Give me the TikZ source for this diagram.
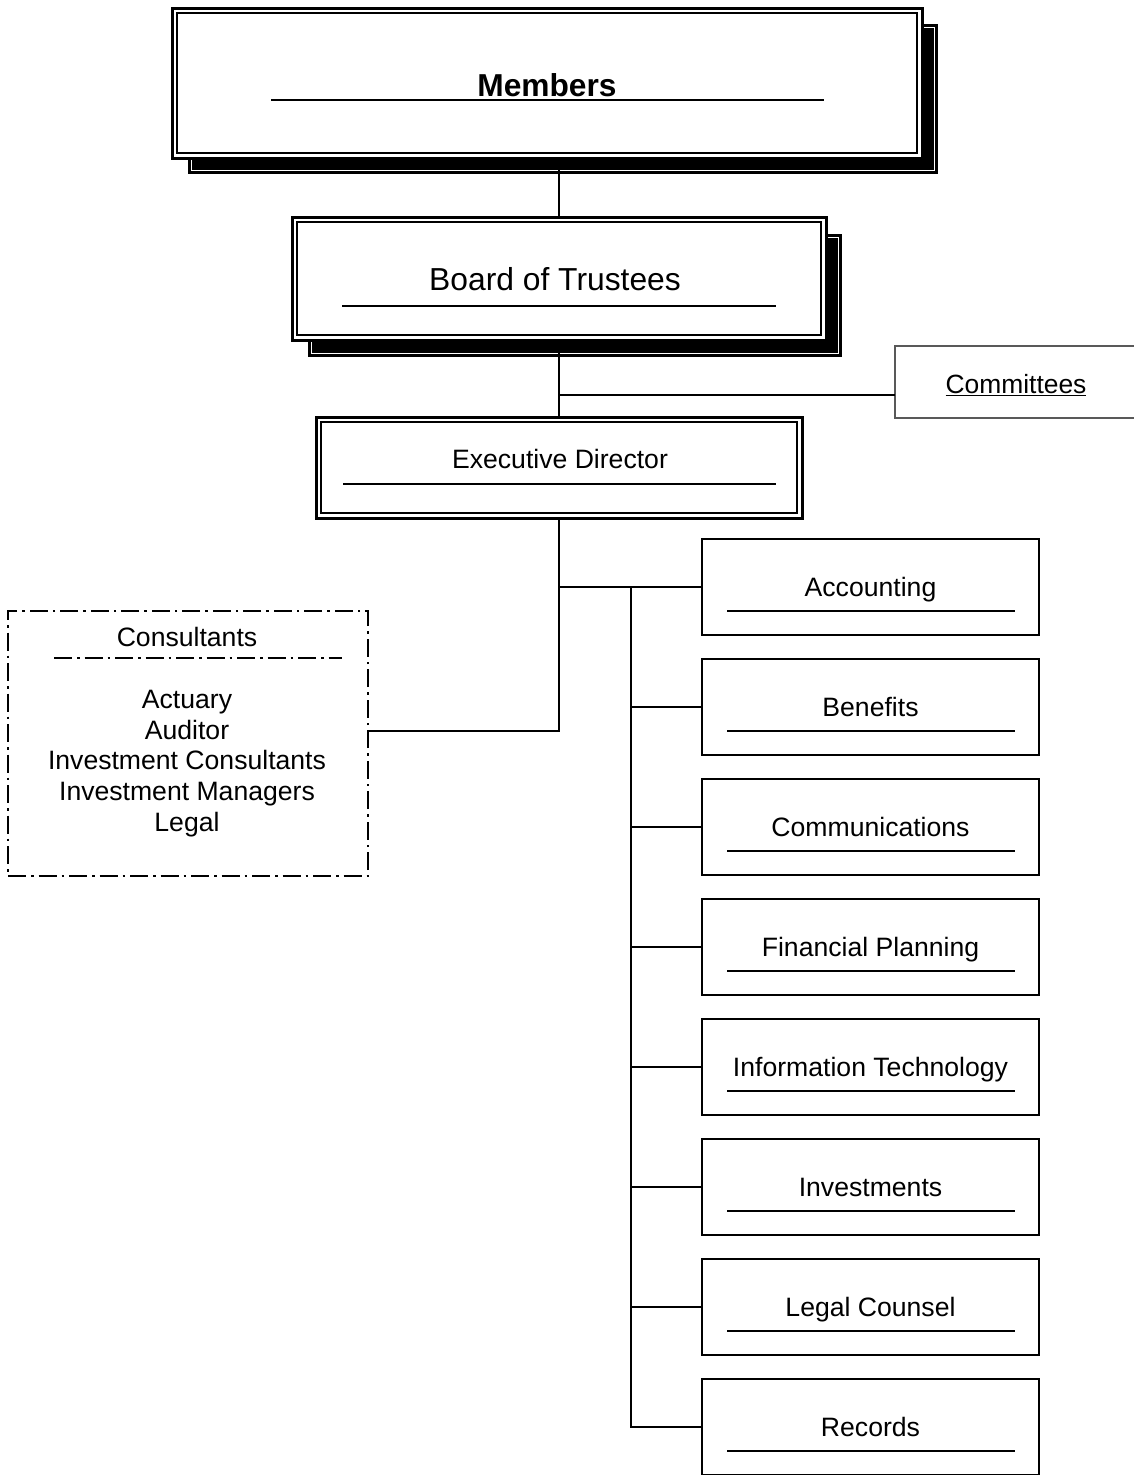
\documentclass[tikz,border=0pt]{standalone}
\usepackage{fontspec}
\setmainfont{Liberation Sans}
\begin{document}
\begin{tikzpicture}[x=1pt,y=-1pt,
  conn/.style={line width=1.8pt},
  udl/.style={line width=1.8pt},
  bigbox/.style={draw, fill=white, line width=3pt, inner sep=0pt, outer sep=0pt},
  innerline/.style={line width=1.3pt},
  shadowline/.style={white, line width=1.2pt},
  dept/.style={draw, line width=2.4pt, minimum width=337pt, minimum height=96pt, inner sep=0pt, outer sep=0pt},
  deptlabel/.style={inner sep=0pt, text height=19.4pt, text depth=0pt, font=\fontsize{26.6}{30}\selectfont},
  txt/.style={font=\fontsize{26.6}{30.8}\selectfont, inner sep=0pt, align=center}
]
\useasboundingbox (0,0) rectangle (1134,1475);

% ---------- Members ----------
\fill (188,24) rectangle (938,174);
\draw[shadowline] (191.5,27.5) rectangle (934.5,170.5);
\node[bigbox, minimum width=750pt, minimum height=150pt] (mem) at (547,83) {};
\draw[innerline] ([shift={(5,5)}]mem.north west) rectangle ([shift={(-5,-5)}]mem.south east);
\node[inner sep=0pt, text height=23.1pt, text depth=0pt, font=\fontsize{31.7}{36}\selectfont\bfseries] (memt) at (547,85) {Members};
\draw[udl] (271,100) -- (824,100);

% ---------- Board of Trustees ----------
\fill (308,234) rectangle (842,357);
\draw[shadowline] (311.5,237.5) rectangle (838.5,353.5);
\node[bigbox, minimum width=534pt, minimum height=123pt] (bot) at (559,278.5) {};
\draw[innerline] ([shift={(5,5)}]bot.north west) rectangle ([shift={(-5,-5)}]bot.south east);
\node[inner sep=0pt, text height=23.2pt, text depth=0pt, font=\fontsize{31.8}{36}\selectfont] (bott) at (555,279) {Board of Trustees};
\draw[udl] (342,306) -- (776,306);

% ---------- Executive Director ----------
\node[bigbox, minimum width=486pt, minimum height=101pt] (exe) at (559,467.5) {};
\draw[innerline] ([shift={(5,5)}]exe.north west) rectangle ([shift={(-5,-5)}]exe.south east);
\node[deptlabel] (exet) at (560,459) {Executive Director};
\draw[udl] (343,484) -- (776,484);

% ---------- Committees ----------
\node[draw=black!65, line width=1.5pt, minimum width=242pt, minimum height=72pt, inner sep=0pt, outer sep=0pt] (com) at (1016,382) {};
\node[inner sep=0pt, font=\fontsize{26.4}{30}\selectfont] (comt) at (1016,385) {\underline{Committees}};

% ---------- Consultants ----------
\node[draw, line width=1.6pt, dash pattern=on 18pt off 5pt on 2.5pt off 5pt,
      minimum width=360pt, minimum height=265pt, inner sep=0pt, outer sep=0pt] (cons) at (188,743.5) {};
\node[deptlabel] (const) at (187,637) {Consultants};
\draw[line width=1.6pt, dash pattern=on 18pt off 5pt on 2.5pt off 5pt] (54,658) -- (342,658);
\node[txt] (consl) at (187,763.5) {Actuary\\Auditor\\Investment Consultants\\Investment Managers\\Legal};

% ---------- Departments ----------
\foreach \n/\t/\y in {acc/Accounting/587, ben/Benefits/707, comm/Communications/827,
                      fin/Financial Planning/947, it/Information Technology/1067,
                      inv/Investments/1187, leg/Legal Counsel/1307, rec/Records/1427}{
  \node[dept] (\n) at (870.5,\y) {};
  \node[deptlabel] at (\n) {\t};
  \draw[udl] ([shift={(25,24)}]\n.west) -- ([shift={(-24,24)}]\n.east);
}

% ---------- Connectors ----------
\draw[conn] (bot.north |- mem.south) -- (bot.north);
\draw[conn] (bot.south) -- (exe.north);
\coordinate (cj) at (559,395);
\draw[conn] (cj) -- (cj -| com.west);
\coordinate (k) at (559,731);
\draw[conn] (exe.south) -- (k) -- (k -| cons.east);
\draw[conn] (exe.south |- acc.west) -- (acc.west);
\coordinate (t) at (631,0);
\draw[conn] (t |- acc.west) -- (t |- rec.west) -- (rec.west);
\foreach \n in {ben,comm,fin,it,inv,leg}{
  \draw[conn] (t |- \n.west) -- (\n.west);
}
\end{tikzpicture}
\end{document}
